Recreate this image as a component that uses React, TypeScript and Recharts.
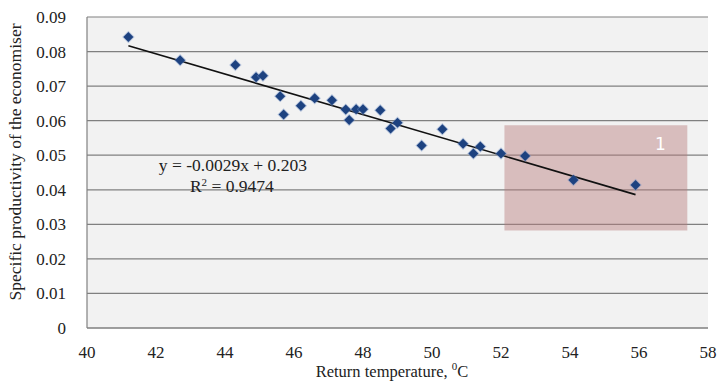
import React from 'react';
import {
  ScatterChart,
  Scatter,
  XAxis,
  YAxis,
  CartesianGrid,
  ReferenceArea,
  ReferenceDot,
} from 'recharts';

// measured points (return temperature, specific productivity)
const temps = [41.2, 42.7, 44.3, 44.9, 45.1, 45.6, 45.7, 46.2, 46.6, 47.1, 47.5, 47.6, 47.8, 48.0, 48.5, 48.8, 49.0, 49.7, 50.3, 50.9, 51.2, 51.4, 52.0, 52.7, 54.1, 55.9];
const productivity = [0.0842, 0.0775, 0.0761, 0.0726, 0.0730, 0.0671, 0.0618, 0.0643, 0.0665, 0.0659, 0.0632, 0.0602, 0.0633, 0.0633, 0.0630, 0.0577, 0.0594, 0.0528, 0.0575, 0.0533, 0.0505, 0.0525, 0.0505, 0.0498, 0.0428, 0.0414];

// linear trend drawn between its ends
const trendX = [41.2, 55.9];
const trendY = [0.0817, 0.0386];

const xTicks = [40, 42, 44, 46, 48, 50, 52, 54, 56, 58];
const yTicks = [0, 0.01, 0.02, 0.03, 0.04, 0.05, 0.06, 0.07, 0.08, 0.09];

// shaded zone "1"
const zoneX = [52.1, 57.4];
const zoneY = [0.0282, 0.0587];

const points = temps.map((t, i) => ({ x: t, y: productivity[i] }));
const trend = trendX.map((t, i) => ({ x: t, y: trendY[i] }));

const FONT = '"Liberation Serif", "Times New Roman", serif';

const Diamond = (props: any) => {
  const { cx, cy } = props;
  if (cx == null || cy == null) return null;
  const r = 5;
  return (
    <g>
      <polygon
        points={`${cx},${cy - r - 1.2} ${cx + r + 1.2},${cy} ${cx},${cy + r + 1.2} ${cx - r - 1.2},${cy}`}
        fill="#6f8fc4"
        opacity={0.45}
      />
      <polygon
        points={`${cx},${cy - r} ${cx + r},${cy} ${cx},${cy + r} ${cx - r},${cy}`}
        fill="#1d4280"
      />
    </g>
  );
};

export default function App() {
  return (
    <div style={{ width: 721, height: 384, background: '#fff' }}>
      <style>{`body{margin:0}`}</style>
      <ScatterChart
        width={721}
        height={384}
        margin={{ top: 17, right: 13, left: 0, bottom: 0 }}
      >
        <CartesianGrid vertical={false} stroke="#808080" strokeWidth={1.2} fill="#f2f2f2" />
        <XAxis
          type="number"
          dataKey="x"
          domain={[40, 58]}
          ticks={xTicks}
          height={56}
          tickLine={false}
          tickMargin={12}
          stroke="#808080"
          strokeWidth={1.2}
          tick={{ fill: '#222', fontSize: 17, fontFamily: FONT }}
          label={{
            content: () => (
              <text
                x={392}
                y={373}
                textAnchor="middle"
                dominantBaseline="middle"
                fill="#222"
                fontSize={16.5}
                fontFamily={FONT}
              >
                Return temperature, <tspan dy={-6} fontSize={11}>0</tspan>
                <tspan dy={6}>C</tspan>
              </text>
            ),
          }}
        />
        <YAxis
          type="number"
          dataKey="y"
          domain={[0, 0.09]}
          ticks={yTicks}
          width={87}
          tickLine={false}
          tickMargin={15}
          stroke="#808080"
          strokeWidth={1.2}
          tickFormatter={(v: number) => (v === 0 ? '0' : v.toFixed(2))}
          tick={{ fill: '#222', fontSize: 17, fontFamily: FONT }}
          label={{
            content: () => (
              <text
                x={17}
                y={162}
                transform="rotate(-90 17 162)"
                textAnchor="middle"
                dominantBaseline="middle"
                fill="#222"
                fontSize={17.5}
                fontFamily={FONT}
              >
                Specific productivity of the economiser
              </text>
            ),
          }}
        />
        <ReferenceArea
          x1={zoneX[0]}
          x2={zoneX[1]}
          y1={zoneY[0]}
          y2={zoneY[1]}
          fill="#b77c7c"
          fillOpacity={0.45}
          stroke="none"
          label={{
            content: (p: any) => {
              const vb = p.viewBox;
              return (
                <text
                  x={vb.x + vb.width - 27}
                  y={vb.y + 20}
                  textAnchor="middle"
                  dominantBaseline="middle"
                  fill="#ffffff"
                  fontSize={17}
                  fontFamily='"DejaVu Sans", sans-serif'
                >
                  1
                </text>
              );
            },
          }}
        />
        <Scatter
          data={trend}
          line={{ stroke: '#111', strokeWidth: 1.6 }}
          shape={() => null}
          isAnimationActive={false}
        />
        <Scatter data={points} shape={Diamond} isAnimationActive={false} />
        <ReferenceDot
          x={44.2}
          y={0.0470}
          r={0}
          stroke="none"
          fill="none"
          label={{
            content: (p: any) => {
              const vb = p.viewBox;
              const cx = vb.x + (vb.width || 0) / 2;
              const cy = vb.y + (vb.height || 0) / 2;
              return (
                <g fontFamily={FONT} fontSize={17.5} fill="#222" textAnchor="middle">
                  <text x={cx + 1} y={cy + 1} dominantBaseline="middle">y = -0.0029x + 0.203</text>
                  <text x={cx} y={cy + 22} dominantBaseline="middle">
                    R<tspan dy={-5} fontSize={11}>2</tspan>
                    <tspan dy={5}> = 0.9474</tspan>
                  </text>
                </g>
              );
            },
          }}
        />
      </ScatterChart>
    </div>
  );
}
